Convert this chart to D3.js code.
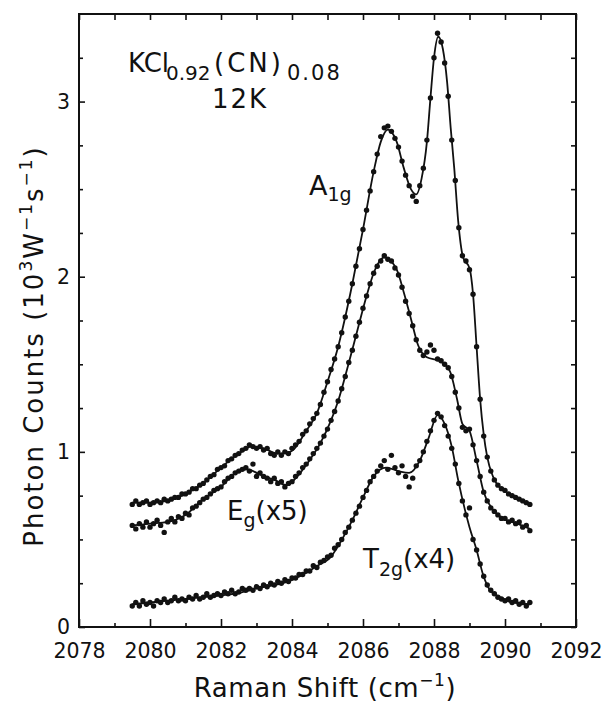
<!DOCTYPE html>
<html lang="en">
<head>
<meta charset="UTF-8">
<title>KCl(CN) Raman</title>
<script src="https://cdn.jsdelivr.net/npm/d3@7/dist/d3.min.js"></script>
<style>
  body { margin: 0; background: #fff; }
  svg text { font-family: "DejaVu Sans", sans-serif; fill: #111; }
</style>
</head>
<body>
<svg id="chart" width="607" height="702"></svg>
<script>
// axis ticks
var xMajorTicks = [2078, 2080, 2082, 2084, 2086, 2088, 2090, 2092];
var xMinorTicks = [2079, 2081, 2083, 2085, 2087, 2089, 2091];
var yMajorTicks = [0, 1, 2, 3];
var yMinorTicks = [0.25, 0.5, 0.75, 1.25, 1.5, 1.75, 2.25, 2.5, 2.75, 3.25];

// measured points: sampled every 0.1 cm-1 starting at 2079.5
var shiftStart = 2079.5, shiftStep = 0.1;
var a1gCounts = [
  0.70,0.72,0.70,0.71,0.72,0.70,0.71,0.72,0.71,0.73,
  0.72,0.73,0.74,0.74,0.76,0.76,0.77,0.79,0.79,0.81,
  0.82,0.84,0.86,0.87,0.90,0.91,0.92,0.95,0.96,0.98,
  0.99,1.01,1.02,1.04,1.03,1.02,1.03,1.01,1.02,0.99,
  0.98,1.00,0.98,1.00,0.99,1.02,1.04,1.06,1.10,1.12,
  1.16,1.19,1.22,1.27,1.34,1.40,1.47,1.53,1.60,1.68,
  1.77,1.86,1.96,2.06,2.16,2.27,2.38,2.49,2.60,2.70,
  2.80,2.85,2.86,2.83,2.79,2.74,2.66,2.58,2.52,2.46,
  2.43,2.52,2.62,2.78,3.02,3.25,3.39,3.34,3.22,3.03,
  2.78,2.55,2.28,2.12,2.09,2.04,1.90,1.60,1.30,1.09,
  0.97,0.89,0.84,0.81,0.79,0.78,0.76,0.75,0.74,0.73,
  0.72,0.71,0.70];
var egCounts = [
  0.58,0.56,0.59,0.57,0.60,0.57,0.59,0.61,0.58,0.54,
  0.60,0.62,0.60,0.63,0.62,0.65,0.64,0.68,0.69,0.71,
  0.73,0.74,0.76,0.78,0.79,0.80,0.83,0.85,0.86,0.88,
  0.89,0.90,0.91,0.89,0.93,0.86,0.88,0.86,0.85,0.83,
  0.85,0.82,0.83,0.80,0.82,0.83,0.86,0.88,0.91,0.93,
  0.96,0.99,1.02,1.05,1.09,1.13,1.18,1.23,1.29,1.36,
  1.43,1.51,1.58,1.66,1.74,1.82,1.89,1.96,2.02,2.06,
  2.09,2.12,2.10,2.09,2.05,2.01,1.94,1.86,1.79,1.72,
  1.64,1.58,1.55,1.57,1.61,1.58,1.53,1.52,1.50,1.48,
  1.43,1.34,1.25,1.14,1.12,1.13,1.04,0.95,0.86,0.77,
  0.72,0.68,0.66,0.64,0.62,0.62,0.60,0.61,0.59,0.60,
  0.57,0.58,0.55];
var t2gCounts = [
  0.12,0.14,0.12,0.15,0.13,0.14,0.12,0.15,0.14,0.16,
  0.14,0.15,0.17,0.15,0.16,0.15,0.17,0.16,0.18,0.16,
  0.17,0.19,0.17,0.18,0.19,0.18,0.20,0.19,0.21,0.19,
  0.20,0.22,0.21,0.22,0.21,0.23,0.22,0.24,0.23,0.25,
  0.24,0.26,0.25,0.27,0.26,0.28,0.28,0.30,0.30,0.32,
  0.32,0.35,0.34,0.37,0.38,0.40,0.41,0.45,0.47,0.50,
  0.54,0.57,0.61,0.65,0.69,0.74,0.78,0.83,0.86,0.89,
  0.92,0.95,0.90,0.98,0.91,0.88,0.92,0.86,0.80,0.85,
  0.92,0.95,1.00,1.06,1.12,1.18,1.22,1.20,1.15,1.09,
  1.02,0.93,0.82,0.72,0.64,0.68,0.50,0.44,0.36,0.29,
  0.24,0.21,0.19,0.17,0.16,0.15,0.16,0.14,0.15,0.13,
  0.14,0.12,0.14];

// fitted curves [shift, counts]
var a1gFit = [[2079.5,0.71],[2080.0,0.71],[2080.5,0.72],[2081.0,0.76],[2081.5,0.82],[2082.0,0.91],
  [2082.5,0.99],[2082.85,1.03],[2083.2,1.02],[2083.6,0.99],[2083.95,1.00],[2084.4,1.12],[2084.7,1.22],
  [2085.0,1.40],[2085.3,1.60],[2085.5,1.77],[2085.7,1.96],[2086.0,2.27],[2086.3,2.60],[2086.5,2.77],
  [2086.7,2.84],[2086.95,2.77],[2087.15,2.62],[2087.35,2.50],[2087.5,2.47],[2087.65,2.56],[2087.8,2.77],
  [2087.9,3.02],[2088.0,3.25],[2088.12,3.37],[2088.25,3.30],[2088.37,3.11],[2088.47,2.85],[2088.57,2.62],
  [2088.68,2.32],[2088.82,2.11],[2089.0,2.05],[2089.1,1.90],[2089.2,1.60],[2089.3,1.30],[2089.4,1.10],
  [2089.5,0.97],[2089.66,0.86],[2089.9,0.79],[2090.0,0.78]];
var egFit = [[2079.5,0.58],[2080.0,0.59],[2080.5,0.60],[2081.0,0.64],[2081.5,0.73],[2082.0,0.80],
  [2082.35,0.87],[2082.75,0.90],[2083.1,0.87],[2083.5,0.84],[2083.85,0.81],[2084.15,0.86],[2084.45,0.94],
  [2084.8,1.05],[2085.1,1.18],[2085.3,1.29],[2085.55,1.47],[2085.85,1.70],[2086.1,1.89],[2086.3,2.02],
  [2086.6,2.11],[2086.95,2.04],[2087.15,1.91],[2087.35,1.76],[2087.55,1.61],[2087.8,1.54],[2088.15,1.52],
  [2088.45,1.46],[2088.65,1.30],[2088.8,1.16],[2089.0,1.12],[2089.2,0.95],[2089.4,0.77],[2089.66,0.67],
  [2089.95,0.62],[2090.35,0.59],[2090.7,0.56]];
var t2gFit = [[2079.5,0.13],[2080.5,0.15],[2081.5,0.17],[2082.5,0.195],[2083.0,0.22],[2083.9,0.26],
  [2084.4,0.31],[2084.8,0.36],[2085.05,0.39],[2085.35,0.48],[2085.7,0.61],[2086.0,0.74],[2086.3,0.86],
  [2086.65,0.91],[2087.0,0.89],[2087.3,0.88],[2087.6,0.95],[2087.85,1.08],[2088.1,1.21],[2088.3,1.16],
  [2088.5,1.03],[2088.68,0.84],[2088.87,0.67],[2089.0,0.57],[2089.2,0.44],[2089.38,0.30],[2089.58,0.21],
  [2089.86,0.17],[2090.2,0.14],[2090.7,0.13]];

var svg = d3.select('#chart');
var frameL = 79, frameR = 576, frameT = 14, frameB = 627;

var x = d3.scaleLinear().domain([2078, 2092]).range([frameL, frameR]);
var y = d3.scaleLinear().domain([0, 3.5]).range([frameB, frameT]);

// axes (ticks point inward)
svg.append('g').attr('transform', 'translate(0,' + frameB + ')')
  .call(d3.axisBottom(x).tickValues(xMajorTicks).tickSize(-8).tickPadding(16).tickFormat(d3.format('d')));
svg.append('g').attr('transform', 'translate(0,' + frameB + ')')
  .call(d3.axisBottom(x).tickValues(xMinorTicks).tickSize(-4).tickFormat(''));
svg.append('g').attr('transform', 'translate(0,' + frameT + ')')
  .call(d3.axisTop(x).tickValues(xMajorTicks.concat(xMinorTicks)).tickSize(-6).tickFormat(''));
svg.append('g').attr('transform', 'translate(' + frameL + ',0)')
  .call(d3.axisLeft(y).tickValues(yMajorTicks).tickSize(-6).tickPadding(9).tickFormat(d3.format('d')));
svg.append('g').attr('transform', 'translate(' + frameL + ',0)')
  .call(d3.axisLeft(y).tickValues(yMinorTicks).tickSize(-4).tickFormat(''));
svg.append('g').attr('transform', 'translate(' + frameR + ',0)')
  .call(d3.axisRight(y).tickValues(yMajorTicks.concat(yMinorTicks)).tickSize(-5).tickFormat(''));

svg.selectAll('.domain').remove();
svg.selectAll('.tick line').attr('stroke', '#111').attr('stroke-width', 1.6);
svg.selectAll('.tick text').style('font-size', '20.5px').attr('fill', '#111');

svg.append('rect')
  .attr('x', frameL).attr('y', frameT)
  .attr('width', frameR - frameL).attr('height', frameB - frameT)
  .attr('fill', 'none').attr('stroke', '#111').attr('stroke-width', 2);

// fitted lines
var line = d3.line().x(d => x(d[0])).y(d => y(d[1])).curve(d3.curveMonotoneX);
[a1gFit, egFit, t2gFit].forEach(function (fit) {
  svg.append('path').datum(fit)
    .attr('d', line)
    .attr('fill', 'none').attr('stroke', '#111').attr('stroke-width', 1.8);
});

// measured dots
[a1gCounts, egCounts, t2gCounts].forEach(function (counts) {
  svg.append('g').selectAll('circle')
    .data(counts)
    .enter()
    .append('circle')
    .attr('cx', (d, i) => x(shiftStart + i * shiftStep))
    .attr('cy', d => y(d))
    .attr('r', 2.7)
    .attr('fill', '#111');
});

// labels
var title = svg.append('text').attr('y', 72).style('font-size', '26px');
title.append('tspan').attr('x', 128).text('KCl');
title.append('tspan').attr('x', 166).attr('dy', 8).style('font-size', '20px').text('0.92');
title.append('tspan').attr('x', 214).attr('dy', -8).style('letter-spacing', '3px').text('(CN)');
title.append('tspan').attr('x', 287).attr('dy', 8).style('font-size', '21px').style('letter-spacing', '2px').text('0.08');

svg.append('text').attr('x', 240).attr('y', 108).attr('text-anchor', 'middle')
  .style('font-size', '26px').style('letter-spacing', '2px').text('12K');

var a1g = svg.append('text').attr('x', 309).attr('y', 195).style('font-size', '27px');
a1g.append('tspan').text('A');
a1g.append('tspan').attr('dy', 6).style('font-size', '19px').text('1g');

var eg = svg.append('text').attr('x', 227).attr('y', 520).style('font-size', '26px');
eg.append('tspan').text('E');
eg.append('tspan').attr('dy', 7).style('font-size', '19px').text('g');
eg.append('tspan').attr('dy', -7).text('(x5)');

var t2g = svg.append('text').attr('x', 363).attr('y', 568).style('font-size', '26px');
t2g.append('tspan').text('T');
t2g.append('tspan').attr('dy', 8).style('font-size', '19px').text('2g');
t2g.append('tspan').attr('dy', -8).text('(x4)');

var xlab = svg.append('text').attr('x', 325).attr('y', 697).attr('text-anchor', 'middle')
  .style('font-size', '26px').style('letter-spacing', '0.6px');
xlab.append('tspan').text('Raman Shift (cm');
xlab.append('tspan').attr('dy', -11).style('font-size', '17px').text('\u22121');
xlab.append('tspan').attr('dy', 11).text(')');

var ylab = svg.append('text').attr('transform', 'translate(43,346) rotate(-90)')
  .attr('text-anchor', 'middle').style('font-size', '26px').style('letter-spacing', '2px');
ylab.append('tspan').text('Photon Counts (10');
ylab.append('tspan').attr('dy', -11).style('font-size', '17px').text('3');
ylab.append('tspan').attr('dy', 11).text('W');
ylab.append('tspan').attr('dy', -11).style('font-size', '17px').text('\u22121');
ylab.append('tspan').attr('dy', 11).text('s');
ylab.append('tspan').attr('dy', -11).style('font-size', '17px').text('\u22121');
ylab.append('tspan').attr('dy', 11).text(')');
</script>
</body>
</html>
